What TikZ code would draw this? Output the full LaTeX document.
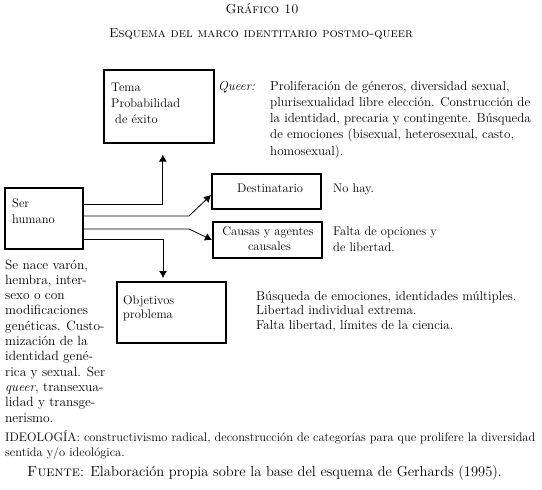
\documentclass[tikz,border=0pt]{standalone}
\usetikzlibrary{arrows.meta}
\begin{document}
\begin{tikzpicture}[x=1pt,y=-1pt,
  box/.style={draw,line width=1.6pt,inner sep=0pt,anchor=north west},
  conn/.style={line width=0.8pt},
  arr/.style={conn,-{Latex[length=7pt,width=8pt]}},
  txt/.style={anchor=base west,inner sep=0pt,font=\fontsize{12.5}{15}\selectfont},
  body/.style={txt,font=\fontsize{13}{15}\selectfont},
  left/.style={txt,font=\fontsize{13.4}{15}\selectfont},
  ttl/.style={anchor=base,inner sep=0pt,font=\fontsize{13}{15}\selectfont\scshape},
  small/.style={anchor=base west,inner sep=0pt,font=\fontsize{12.4}{14}\selectfont}]
\path[use as bounding box] (0,0) rectangle (542,490);

% titles
\node[ttl] (t1) at (262,13) {Gráfico 10};
\node[ttl] (t2) at (261,37.5) {Esquema del marco identitario postmo-queer};

% boxes
\node[box,minimum width=110pt,minimum height=73pt] (tema) at (103,69) {};
\node[box,minimum width=78pt,minimum height=61pt] (ser) at (4,187) {};
\node[box,minimum width=109pt,minimum height=35pt] (dest) at (211,173) {};
\node[box,minimum width=109pt,minimum height=36pt] (caus) at (212,221) {};
\node[box,minimum width=109pt,minimum height=61pt] (obj) at (116,281) {};

% box texts
\node[txt] (tema1) at (111,91) {Tema};
\node[txt] (tema2) at (111,107) {Probabilidad};
\node[txt] (tema3) at (115,123) {de éxito};
\node[txt] (ser1) at (12,207) {Ser};
\node[txt] (ser2) at (12,223) {humano};
\node[txt] (dest1) at (237,192) {Destinatario};
\node[txt,anchor=base] (caus1) at (268,235) {Causas y agentes};
\node[txt,anchor=base] (caus2) at (269.5,250) {causales};
\node[txt] (obj1) at (123,304) {Objetivos};
\node[txt] (obj2) at (123,318) {problema};

% connectors
\coordinate (g1) at (189,216);
\coordinate (g2) at (189,229);
\draw[arr] (ser.east |- 0,204) -| ([xshift=4pt,yshift=-11pt]tema.south);
\draw[draw=black!35,line width=1.8pt] (ser.east |- g1) -- (g1);
\draw[arr] (g1) -- (dest.west |- 0,195);
\draw[arr] (ser.east |- g2) -- (g2) -- (caus.west |- 0,240);
\draw[arr,shorten >=3pt] (ser.east |- 0,239) -| (obj.north -| 163,0);

% queer
\node[body] (q0) at (218,90) {\itshape Queer:};
\node[body] (q1) at (270,90) {Proliferación de géneros, diversidad sexual,};
\node[body] (q2) at (270,106.3) {plurisexualidad libre elección. Construcción de};
\node[body] (q3) at (270,122.6) {la identidad, precaria y contingente. Búsqueda};
\node[body] (q4) at (270,138.9) {de emociones (bisexual, heterosexual, casto,};
\node[body] (q5) at (270,155.2) {homosexual).};

\node[txt] (d1) at (333,192) {No hay.};
\node[txt] (c1) at (333,235) {Falta de opciones y};
\node[txt] (c2) at (333,251) {de libertad.};

\node[body] (o1) at (256,300) {Búsqueda de emociones, identidades múltiples.};
\node[body] (o2) at (256,314.5) {Libertad individual extrema.};
\node[body] (o3) at (256,329) {Falta libertad, límites de la ciencia.};

% left paragraph
\node[left] (l1) at (5,269) {Se nace varón,};
\node[left] (l2) at (5,284.3) {hembra, inter-};
\node[left] (l3) at (5,299.6) {sexo o con};
\node[left] (l4) at (5,314.9) {modificaciones};
\node[left] (l5) at (5,330.2) {genéticas. Custo-};
\node[left] (l6) at (5,345.5) {mización de la};
\node[left] (l7) at (5,360.8) {identidad gené-};
\node[left] (l8) at (5,376.1) {rica y sexual. Ser};
\node[left] (l9) at (5,391.4) {\itshape queer\upshape, transexua-};
\node[left] (l10) at (5,406.7) {lidad y transge-};
\node[left] (l11) at (5,422) {nerismo.};

% ideology and source
\node[small] (i1) at (5,441) {IDEOLOGÍA: constructivismo radical, deconstrucción de categorías para que prolifere la diversidad};
\node[small] (i2) at (5,456) {sentida y/o ideológica.};
\node[txt,font=\fontsize{14.5}{16}\selectfont] (f1) at (27,476) {\textsc{Fuente}: Elaboración propia sobre la base del esquema de Gerhards (1995).};
\end{tikzpicture}
\end{document}
